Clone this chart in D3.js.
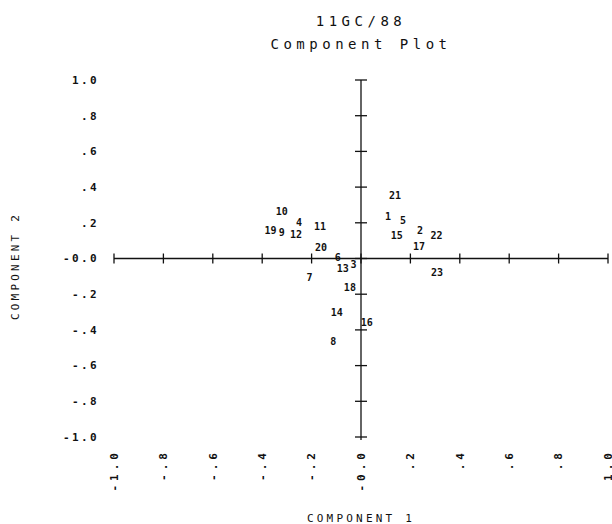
<!DOCTYPE html>
<html>
<head>
<meta charset="utf-8">
<script src="https://cdn.jsdelivr.net/npm/d3@7/dist/d3.min.js"></script>
<style>
  html, body { margin: 0; padding: 0; background: #fff; }
  svg text { font-family: "DejaVu Sans Mono", "Liberation Mono", monospace; fill: #111; }
</style>
</head>
<body>
<script>
// Component loadings for 23 variables (component 1, component 2)
const labels = ["1","2","3","4","5","6","7","8","9","10","11","12",
                "13","14","15","16","17","18","19","20","21","22","23"];
const comp1 = [0.109, 0.239, -0.030, -0.251, 0.170, -0.094, -0.208, -0.112, -0.321, -0.321, -0.166, -0.263,
               -0.074, -0.098, 0.145, 0.023, 0.235, -0.045, -0.366, -0.162, 0.138, 0.306, 0.308];
const comp2 = [0.238, 0.156, -0.032, 0.204, 0.212, 0.004, -0.106, -0.466, 0.143, 0.262, 0.182, 0.137,
               -0.058, -0.305, 0.128, -0.361, 0.066, -0.164, 0.156, 0.059, 0.352, 0.128, -0.080];

const tickValues = [-1.0, -0.8, -0.6, -0.4, -0.2, 0.0, 0.2, 0.4, 0.6, 0.8, 1.0];
const xTickLabels = ["-1.0", "-.8", "-.6", "-.4", "-.2", "-0.0", ".2", ".4", ".6", ".8", "1.0"];
const yTickLabels = ["-1.0", "-.8", "-.6", "-.4", "-.2", "-0.0", ".2", ".4", ".6", ".8", "1.0"];

const titleLines = ["11GC/88", "Component Plot"];
const xTitle = "COMPONENT 1";
const yTitle = "COMPONENT 2";

const W = 612, H = 524;
const svg = d3.select("body").append("svg")
  .attr("width", W).attr("height", H)
  .attr("viewBox", `0 0 ${W} ${H}`);

const x = d3.scaleLinear().domain([-1, 1]).range([114, 608]);
const y = d3.scaleLinear().domain([-1, 1]).range([437, 80]);

const ink = "#111";
const axes = svg.append("g").attr("stroke", ink).attr("stroke-width", 1.3).attr("fill", "none");

// horizontal axis through y = 0
axes.append("line")
  .attr("x1", x(-1)).attr("x2", x(1))
  .attr("y1", y(0)).attr("y2", y(0));
axes.selectAll("line.xt").data(tickValues).enter().append("line")
  .attr("class", "xt")
  .attr("x1", d => x(d)).attr("x2", d => x(d))
  .attr("y1", y(0) - 5).attr("y2", y(0) + 5);

// vertical axis through x = 0
axes.append("line")
  .attr("x1", x(0)).attr("x2", x(0))
  .attr("y1", y(1)).attr("y2", y(-1) + 3);
axes.selectAll("line.yt").data(tickValues).enter().append("line")
  .attr("class", "yt")
  .attr("x1", x(0) - 6).attr("x2", x(0) + 6)
  .attr("y1", d => y(d)).attr("y2", d => y(d));

// y tick labels on the left
svg.append("g").selectAll("text").data(tickValues).enter().append("text")
  .attr("x", 99)
  .attr("y", d => y(d))
  .attr("dy", "0.35em")
  .attr("text-anchor", "end")
  .attr("font-size", 11)
  .attr("font-weight", "bold")
  .attr("letter-spacing", 2.4)
  .text((d, i) => yTickLabels[i]);

// x tick labels, rotated, hanging below the plot
svg.append("g").selectAll("text").data(tickValues).enter().append("text")
  .attr("transform", d => `translate(${x(d)},449) rotate(-90)`)
  .attr("dy", "0.35em")
  .attr("text-anchor", "end")
  .attr("font-size", 11)
  .attr("font-weight", "bold")
  .attr("letter-spacing", 4)
  .text((d, i) => xTickLabels[i]);

// variable labels at their loadings
const pts = labels.map((l, i) => ({ label: l, c1: comp1[i], c2: comp2[i] }));
svg.append("g").selectAll("text").data(pts).enter().append("text")
  .attr("x", d => x(d.c1))
  .attr("y", d => y(d.c2))
  .attr("dy", "0.35em")
  .attr("text-anchor", "middle")
  .attr("font-size", 10)
  .attr("font-weight", "bold")
  .text(d => d.label);

// titles
svg.append("g").selectAll("text").data(titleLines).enter().append("text")
  .attr("x", 361)
  .attr("y", (d, i) => 21 + i * 23)
  .attr("dy", "0.35em")
  .attr("text-anchor", "middle")
  .attr("font-size", 14)
  .attr("letter-spacing", 4.5)
  .text(d => d);

svg.append("text")
  .attr("x", 361).attr("y", 518)
  .attr("dy", "0.35em")
  .attr("text-anchor", "middle")
  .attr("font-size", 11)
  .attr("letter-spacing", 3.2)
  .text(xTitle);

svg.append("text")
  .attr("transform", `translate(15,266) rotate(-90)`)
  .attr("dy", "0.35em")
  .attr("text-anchor", "middle")
  .attr("font-size", 11)
  .attr("letter-spacing", 3.2)
  .text(yTitle);
</script>
</body>
</html>
